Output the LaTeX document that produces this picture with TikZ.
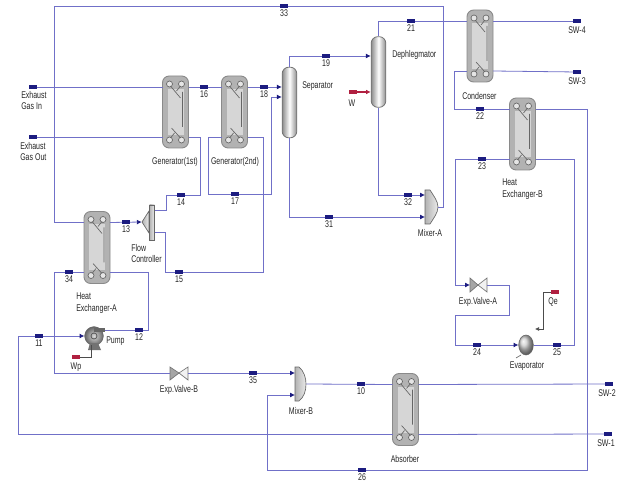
\documentclass[tikz,border=0pt]{standalone}
\usepackage{fontspec}
\setmainfont[FakeStretch=0.72]{Liberation Sans}
\usetikzlibrary{arrows.meta,calc,shapes.geometric}
\definecolor{pipe}{HTML}{7070C8}
\definecolor{navy}{HTML}{1C1C80}
\definecolor{hot}{HTML}{B02040}
\definecolor{steel}{HTML}{8A8A8A}
\tikzset{
  pipeline/.style={draw=pipe,line width=0.6pt},
  inlet/.style={pipeline,-{Latex[length=3.6pt,width=3.6pt,color=navy]}},
  workline/.style={draw=hot,line width=0.8pt},
  txt/.style={font=\fontsize{7.3}{8.6}\selectfont,text=black!85,inner sep=0pt,align=left},
  flagmark/.style={fill=navy,minimum width=6.5pt,minimum height=3pt,inner sep=0pt},
  hotmark/.style={fill=hot,minimum width=6.5pt,minimum height=3pt,inner sep=0pt},
  hxbody/.style={draw=steel,line width=0.7pt,fill=black!30,rounded corners=5pt,minimum width=19.5pt,minimum height=54pt,inner sep=0pt},
  vesselbody/.style={draw=black!55,line width=0.6pt,left color=black!45,right color=black!45,middle color=white,rounded corners=5pt,inner sep=0pt},
  mixbody/.style={draw=black!60,line width=0.5pt,left color=black!30,right color=black!8},
}
% name, x, y: plate heat exchanger with four port coordinates
\newcommand{\hxunit}[3]{%
  \node[hxbody] (#1) at (#2,#3) {};
  \fill[black!16] (#2-8,#3-23) rectangle (#2+8,#3+23);
  \foreach \sx/\sy in {-1/-1,1/-1,-1/1,1/1}
    \draw[black!60,line width=0.5pt,fill=black!10] (#2+\sx*6,#3+\sy*28) circle (3);
  \draw[black!60,line width=0.5pt] (#2-5,#3-26) -- (#2+5,#3-14) (#2+5,#3-26) -- (#2+1,#3-21)
     (#2-5,#3+26) -- (#2-1,#3+21) (#2+5,#3+26) -- (#2-4,#3+16) (#2+7,#3-20) -- (#2+7,#3+15);
  \coordinate (#1-wt) at (#2-13,#3-25);
  \coordinate (#1-wb) at (#2-13,#3+25);
  \coordinate (#1-et) at (#2+13,#3-25);
  \coordinate (#1-eb) at (#2+13,#3+25);
}
\newcommand{\flagat}[4]{% name, x, y, text below
  \node[flagmark] (#1) at (#2,#3) {};
  \node[txt,anchor=north] at (#2,#3+3.5) {#4};
}
\begin{document}
\begin{tikzpicture}[x=0.75pt,y=-0.75pt]
\useasboundingbox (0,0) rectangle (627,484);
\fill[white] (0,0) rectangle (627,484);

% free ends
\coordinate (eig) at (30,87);
\coordinate (eog) at (30,137);
\coordinate (swf) at (577,21);
\coordinate (swt) at (577,72);
\coordinate (swb) at (610,384);
\coordinate (swa) at (610,434);

\node[inner sep=0pt,minimum size=0pt] (spl) at (142,222) {};
\node[inner sep=0pt,minimum size=0pt] (mxa) at (438,207) {};
\node[inner sep=0pt,minimum size=0pt] (mxb) at (306,384) {};
\node[inner sep=0pt,minimum size=0pt] (vlb) at (179,373) {};
\node[inner sep=0pt,minimum size=0pt] (vla) at (478,285) {};

% equipment
\hxunit{geno}{175.5}{112}
\hxunit{gent}{234.5}{112}
\hxunit{cond}{480}{46}
\hxunit{hxb}{522.5}{134}
\hxunit{hxa}{97}{247.5}
\hxunit{abs}{405.5}{409.5}

\node[vesselbody,minimum width=11pt,minimum height=53pt] (sep) at (289.5,102.5) {};
\node[vesselbody,minimum width=11pt,minimum height=53pt] (dep) at (378.5,72) {};

% flow controller (splitter)
\path[mixbody] (spl.center) -- (149,211) -- (149,233) -- cycle;
\path[mixbody] (149.5,205) -- (154.5,205) -- (154.5,240) -- (149.5,240) -- cycle;
% mixer A
\path[mixbody] (425,190) -- (430,190) .. controls (433,195) and (438,201) .. (mxa.center)
  .. controls (438,213) and (433,219) .. (430,224) -- (425,224) -- cycle;
% mixer B
\path[mixbody] (295,367) -- (299,367) .. controls (304,371) and (306,378) .. (mxb.center)
  .. controls (306,391) and (304,397) .. (299,401) -- (295,401) -- cycle;

% pump
\node[circle,draw=black!60,inner color=black!15,outer color=black!60,minimum size=14pt,inner sep=0pt] (pmp) at (94,336) {};
\fill[black!55] (90,343) -- (98,343) -- (101,350) -- (88,350) -- cycle;
\fill[black!60] (94,328) rectangle (105,332);
\draw[black!70,line width=0.5pt] (94,336) circle (3);

% valves
\path[draw=black!55,line width=0.5pt,fill=black!35] (170,367) -- (vlb.center) -- (170,380) -- cycle;
\path[draw=black!55,line width=0.5pt,fill=black!5] (188,367) -- (vlb.center) -- (188,380) -- cycle;
\path[draw=black!55,line width=0.5pt,fill=black!35] (470,278) -- (vla.center) -- (470,292) -- cycle;
\path[draw=black!55,line width=0.5pt,fill=black!5] (487,278) -- (vla.center) -- (487,292) -- cycle;

% evaporator
\node[ellipse,draw=black!60,ball color=black!20,minimum width=11pt,minimum height=15pt,inner sep=0pt] (eva) at (526,345) {};
\draw[black!60,line width=0.5pt] (521,355) -- (516,358);

% streams
\draw[pipeline] (geno-wt) -- (eig);
\draw[pipeline] (geno-wb) -- (eog);
\draw[pipeline] (geno-et) -- (gent-wt);
\draw[inlet] (gent-et) -- (sep.west |- gent-et);
\draw[pipeline] (geno-eb) -- (200,137) -- (200,195) -- (166,195) -- (166,210) -- (154.5,210);
\draw[inlet] (gent-wb) -- (208,137) -- (208,194) -- (271,194) -- (271,97) -- (sep.west |- 0,97);
\draw[pipeline] (gent-eb) -- (263,137) -- (263,272) -- (165,272) -- (165,232) -- (154.5,232);
\draw[inlet] (hxa-et) -- (spl);
\draw[pipeline] (hxa-wb) -- (54,272.5) -- (54,373) -- (170,373);
\draw[inlet] (188,373) -- (295,373);
\draw[pipeline] (abs-wb) -- (18,434.5) -- (18,336);
\draw[inlet] (18,336) -- (pmp.west);
\draw[pipeline] (105,330) -- (148,330) -- (148,272.5) -- (hxa-eb);
\draw[pipeline] (hxa-wt) -- (54,222.5) -- (54,6) -- (443,6) -- (443,207) -- (mxa);
\draw[inlet] (267,470) -- (267,395) -- (295,395);
\draw[pipeline] (267,470) -- (587,470) -- (587,109) -- (hxb-et);
\draw[pipeline] (mxb) -- (abs-wt);
\draw[pipeline] (abs-et) -- (swb);
\draw[pipeline] (abs-eb) -- (swa);
\draw[pipeline] (dep.north) -- (378.5,21) -- (cond-wt);
\draw[pipeline] (cond-et) -- (swf);
\draw[pipeline] (cond-eb) -- (swt);
\draw[pipeline] (cond-wb) -- (454,71) -- (454,109) -- (hxb-wt);
\draw[inlet] (hxb-wb) -- (455,159) -- (455,285) -- (470,285);
\draw[pipeline] (487,285) -- (509,285) -- (509,315) -- (455,315) -- (455,345);
\draw[inlet] (455,345) -- (eva.west);
\draw[pipeline] (eva.east) -- (574,345) -- (574,159) -- (hxb-eb);
\draw[inlet] (sep.north) -- (289.5,56) -- (dep.west |- 0,56);
\draw[inlet] (sep.south) -- (289.5,217) -- (425,217);
\draw[inlet] (dep.south) -- (378.5,195) -- (425,195);
% energy streams
\draw[workline,-{Latex[length=3.4pt,width=3.4pt]}] (349,92) -- (dep.west |- 0,92);
\draw[black!70,line width=0.5pt] (91,345) -- (91,357) -- (76,357);
\draw[black!70,line width=0.5pt,-{Latex[length=3pt,width=3pt]}] (555,292) -- (543,292) -- (543,329) -- (535,329);

% stream flags and numbers
\flagat{s33}{284}{6}{33}
\flagat{s21}{411}{21}{21}
\flagat{s19}{326}{56}{19}
\flagat{s16}{204}{87}{16}
\flagat{s18}{264}{87}{18}
\flagat{s17}{235}{194}{17}
\flagat{s14}{181}{195}{14}
\flagat{s13}{126}{222}{13}
\flagat{s15}{179}{272}{15}
\flagat{s34}{69}{272}{34}
\flagat{s12}{139}{330}{12}
\flagat{s11}{39}{336}{11}
\flagat{s35}{253}{373}{35}
\flagat{s10}{361}{384}{10}
\flagat{s26}{362}{470}{26}
\flagat{s31}{329}{217}{31}
\flagat{s32}{408}{195}{32}
\flagat{s22}{480}{109}{22}
\flagat{s23}{482}{159}{23}
\flagat{s24}{477}{345}{24}
\flagat{s25}{557}{345}{25}

% terminals
\node[flagmark] (t1) at (33,87) {};
\node[flagmark] (t2) at (33,137) {};
\node[flagmark] (t3) at (577,21) {};
\node[flagmark] (t4) at (577,72) {};
\node[flagmark] (t5) at (609,384) {};
\node[flagmark] (t6) at (608,434) {};
\node[hotmark] (t7) at (76,357) {};
\node[hotmark] (t8) at (555,292) {};
\node[hotmark] (t9) at (353,92) {};

% labels
\node[txt,anchor=north west] at (21,91) {Exhaust\\Gas In};
\node[txt,anchor=north west] at (20,142) {Exhaust\\Gas Out};
\node[txt] at (175,162) {Generator(1st)};
\node[txt] at (235,162) {Generator(2nd)};
\node[txt,anchor=west] at (302,86) {Separator};
\node[txt,anchor=west] at (392,55) {Dephlegmator};
\node[txt,anchor=west] at (462,96) {Condenser};
\node[txt,anchor=north west] at (502,179) {Heat\\Exchanger-B};
\node[txt] at (430,233) {Mixer-A};
\node[txt,anchor=north west] at (131,244) {Flow\\Controller};
\node[txt,anchor=north west] at (76,293) {Heat\\Exchanger-A};
\node[txt,anchor=west] at (106,341) {Pump};
\node[txt] at (179,390) {Exp.Valve-B};
\node[txt] at (478,302) {Exp.Valve-A};
\node[txt] at (301,411) {Mixer-B};
\node[txt] at (527,366) {Evaporator};
\node[txt] at (405,459) {Absorber};
\node[txt] at (352,103) {W};
\node[txt] at (76,367) {Wp};
\node[txt] at (553,302) {Qe};
\node[txt] at (577,30) {SW-4};
\node[txt] at (577,81) {SW-3};
\node[txt] at (607,393) {SW-2};
\node[txt] at (606,443) {SW-1};
\end{tikzpicture}
\end{document}
